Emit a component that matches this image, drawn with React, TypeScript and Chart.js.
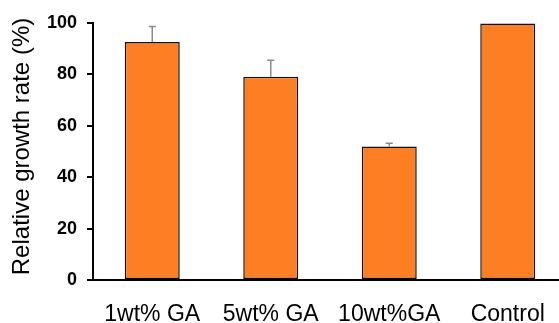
import React, { useEffect, useRef } from "react";
import { Chart, registerables } from "chart.js";

Chart.register(...registerables);

const categories = ["1wt% GA", "5wt% GA", "10wt%GA", "Control"];
const values = [92.6, 79.1, 51.9, 99.8];
const errors = [6.0, 6.4, 1.3, 0];
const yTicks = [0, 20, 40, 60, 80, 100];
const yTitle = "Relative growth rate (%)";

const errorBarPlugin = {
  id: "errorBars",
  afterDatasetsDraw(chart: any) {
    const meta = chart.getDatasetMeta(0);
    const y = chart.scales.y;
    const ctx = chart.ctx;
    ctx.save();
    ctx.strokeStyle = "#8a8a8a";
    ctx.lineWidth = 1.5;
    meta.data.forEach((bar: any, i: number) => {
      const e = errors[i];
      if (!e) return;
      const top = y.getPixelForValue(values[i] + e);
      const base = y.getPixelForValue(values[i]);
      ctx.beginPath();
      ctx.moveTo(bar.x, base);
      ctx.lineTo(bar.x, top);
      ctx.moveTo(bar.x - 3.5, top);
      ctx.lineTo(bar.x + 3.5, top);
      ctx.stroke();
    });
    ctx.restore();
  },
};

const yTitlePlugin = {
  id: "yTitle",
  afterDraw(chart: any) {
    const ctx = chart.ctx;
    const area = chart.chartArea;
    ctx.save();
    ctx.translate(22.5, (area.top + area.bottom) / 2 - 5);
    ctx.rotate(-Math.PI / 2);
    ctx.fillStyle = "#000";
    ctx.font = "24px 'Liberation Sans'";
    ctx.textAlign = "center";
    ctx.textBaseline = "middle";
    ctx.fillText(yTitle, 0, 0);
    ctx.restore();
  },
};

export default function App() {
  const ref = useRef<HTMLCanvasElement | null>(null);
  useEffect(() => {
    document.body.style.margin = "0";
    document.body.style.overflow = "hidden";
    document.documentElement.style.overflow = "hidden";
    const chart = new Chart(ref.current!, {
      type: "bar",
      data: {
        labels: categories,
        datasets: [
          {
            data: values,
            backgroundColor: "#FD7E23",
            borderColor: "#111111",
            borderWidth: 1.5,
            borderSkipped: false,
            categoryPercentage: 1,
            barPercentage: 0.464,
          },
        ],
      },
      options: {
        animation: false,
        responsive: false,
        layout: { padding: { top: 23, left: 0, right: 0, bottom: 0 } },
        plugins: { legend: { display: false }, tooltip: { enabled: false } },
        scales: {
          x: {
            offset: true,
            grid: { display: false },
            border: { display: true, color: "#000", width: 2 },
            ticks: {
              color: "#000",
              padding: 13,
              font: { family: "Liberation Sans", size: 23 },
              maxRotation: 0,
              autoSkip: false,
            },
            afterFit(scale: any) {
              scale.height = 43;
            },
          },
          y: {
            min: 0,
            max: 100,
            afterBuildTicks(scale: any) {
              scale.ticks = yTicks.map((v) => ({ value: v }));
            },
            grid: {
              display: true,
              drawOnChartArea: false,
              drawTicks: true,
              tickLength: 6,
              color: "#000",
              lineWidth: 2,
            },
            border: { display: true, color: "#000", width: 2 },
            ticks: {
              color: "#000",
              padding: 10,
              font: { family: "Liberation Sans", size: 18, weight: "bold" },
            },
            afterFit(scale: any) {
              scale.width = 93;
            },
          },
        },
      },
      plugins: [errorBarPlugin, yTitlePlugin],
    });
    return () => chart.destroy();
  }, []);
  return <canvas ref={ref} width={567} height={323} style={{ display: "block" }} />;
}
